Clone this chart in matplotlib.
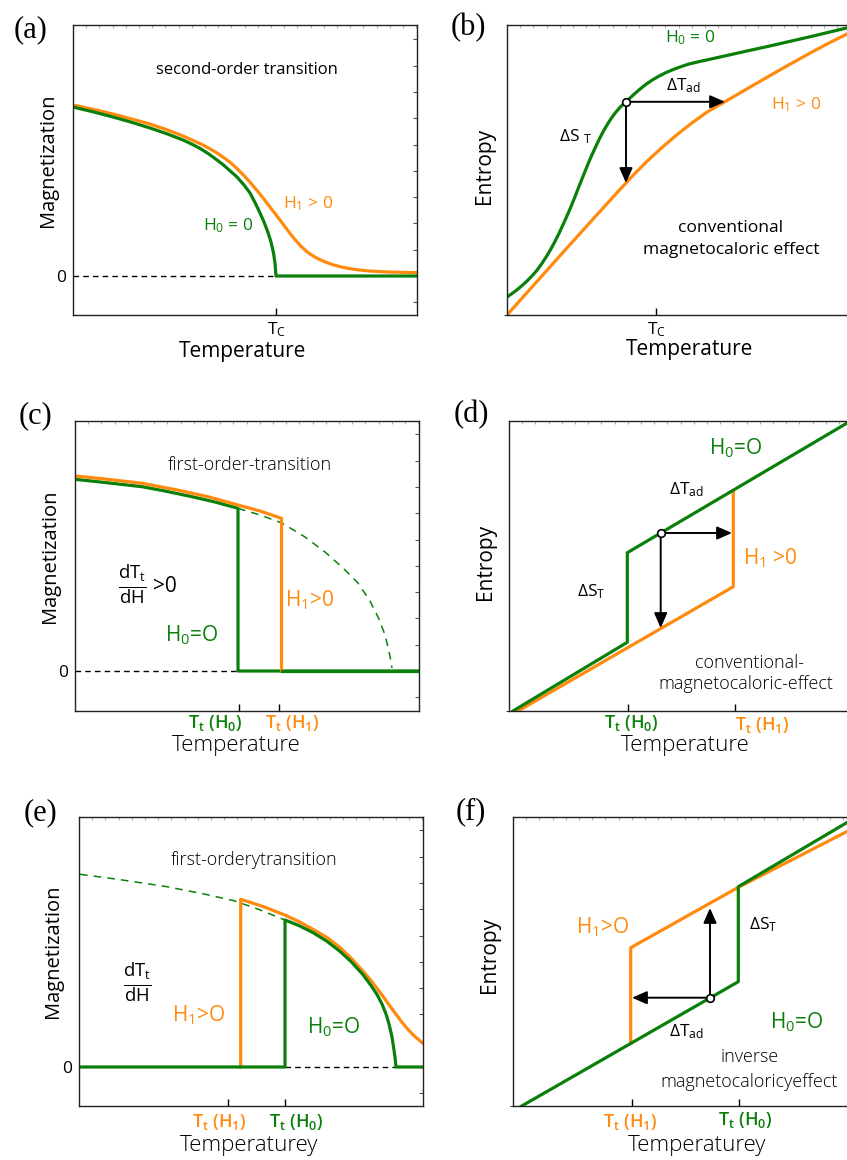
import matplotlib
matplotlib.use('Agg')
import matplotlib.pyplot as plt
from matplotlib.ticker import MultipleLocator

plt.rcParams['font.family'] = ['Open Sans', 'DejaVu Sans']
plt.rcParams['mathtext.default'] = 'regular'

GREEN = '#0a800a'
ORANGE = '#ff8a0d'

# ---- (a) second-order transition, magnetization (arb. units) ----
a_T_h0 = [0, 20, 40, 58, 77, 94, 110, 119, 128, 136, 144, 150, 155, 160, 164, 171, 177, 182, 187,
          191, 195, 198, 200.5, 202, 203, 344]
a_M_h0 = [169, 164.2, 159, 153.9, 148, 142.2, 136, 131.8, 127, 121.9, 116, 111.4, 107, 102.6, 99,
          91, 83, 73.5, 63, 54, 43.5, 34, 23, 13, 0, 0]
a_T_h1 = [0, 20, 40, 58, 77, 94, 110, 120, 130, 137, 144, 151, 158, 165, 172, 179, 186, 193, 200,
          207, 214, 221, 228, 235, 243, 251, 260, 270, 282, 296, 315, 344]
a_M_h1 = [171, 166.7, 162, 157.2, 152, 146.2, 140, 135.6, 131, 127.1, 123, 118.2, 113, 106.5, 99.3,
          91.5, 83.1, 74.2, 65.1, 55.9, 46.6, 37.6, 29.7, 23.4, 18.3, 14.5, 11.2, 8.6, 6.5, 5.0,
          4.0, 3.3]
a_Tc = 203

# ---- (b) second-order transition, entropy ----
b_T_h0 = [0, 5, 10, 15, 20, 25, 30, 35, 40, 44, 48, 52, 56, 60, 64, 68, 72, 76, 80, 84, 88, 92, 96,
          100, 104, 108, 112, 116, 119, 123, 127, 131, 136, 141, 146, 152, 159, 166, 174, 182, 193,
          205, 218, 231, 244, 256, 268, 281, 295, 310, 327, 345]
b_S_h0 = [18, 21.4, 25.2, 29.4, 34.0, 39.1, 44.8, 51.7, 59.4, 66.2, 73.6, 81.6, 90.3, 99.1, 108.4,
          118.3, 128.6, 138.6, 148.5, 158.1, 166.8, 175.3, 183.1, 190.0, 196.3, 201.8, 206.5, 210.7,
          213.2, 217.0, 220.7, 224.2, 228.4, 232.1, 235.4, 238.9, 242.4, 245.4, 248.4, 251.0, 253.6,
          256.2, 259.1, 262.0, 264.9, 267.5, 270.2, 273.2, 276.4, 279.9, 284.0, 288.3]
b_T_h1 = [0, 30, 60, 90, 110, 125, 140, 155, 170, 185, 200, 215, 230, 245, 260, 280, 300, 320, 345]
b_S_h1 = [0, 33.6, 67.1, 100.3, 122.3, 138.6, 153.7, 167.5, 180.3, 192.1, 202.9, 211.6, 220.3,
          229.0, 237.7, 249.1, 260.2, 271.0, 283.5]
b_Tc = 149
b_point = (119, 213.2)
b_Tad_end = 218
b_ST_end = 132

# ---- (c) first-order transition, dTt/dH > 0, magnetization ----
c_T_h0 = [0, 30, 67, 90, 117, 140, 163, 163, 344]
c_M_h0 = [191.7, 188.5, 184.3, 180, 174.3, 169, 162.7, 0, 0]
c_T_h1 = [0, 30, 67, 100, 133, 163, 185, 206.5, 206.5]
c_M_h1 = [195, 192, 187.7, 181.5, 174.3, 166, 160, 152.7, 0]
c_T_ext = [163, 185, 207, 230, 250, 268, 283, 295, 304, 310, 314, 317]
c_M_ext = [162.7, 156, 148, 134, 119, 103, 88, 70, 52, 36, 20, 3]
c_Tt = [164, 204]

# ---- (d) first-order transition, conventional MCE, entropy ----
d_T_h0 = [4, 118.3, 118.3, 350]
d_S_h0 = [0, 68.7, 158.3, 295]
d_T_h1 = [9, 224.3, 224.3]
d_S_h1 = [0, 124.3, 219.5]
d_Tt = [119, 226]
d_point = (151.7, 178)
d_Tad_end = 223
d_ST_end = 83

# ---- (e) first-order transition, dTt/dH < 0, magnetization ----
e_T_h0 = [0, 206, 206, 220, 234, 248, 261, 272, 284, 292, 298, 303, 307, 310, 313, 315, 316.2, 317, 344]
e_M_h0 = [0, 0, 147, 141.4, 134.4, 125.7, 115.6, 105.5, 92.3, 81.5, 72.5, 63, 53, 43, 30, 17, 8, 0, 0]
e_T_h1 = [161.7, 161.7, 184, 206, 220, 234, 248, 261, 272, 284, 292, 300, 308, 315, 322, 328, 335, 344]
e_M_h1 = [0, 167.7, 160.5, 151.9, 145.4, 137.7, 129.5, 119.5, 109, 95.9, 86.5, 76.1, 65.1, 55.4,
          46, 38.7, 31.3, 23.6]
e_T_ext = [1, 40, 88, 125, 155, 180, 206]
e_M_ext = [192.7, 187.5, 180.3, 173, 166.3, 157.5, 147]
e_Tt = [149, 206]

# ---- (f) first-order transition, inverse MCE, entropy ----
f_T_h0 = [8.7, 225.3, 225.3, 344]
f_S_h0 = [0, 124.3, 219.3, 289.4]
f_T_h1 = [117.7, 117.7, 225.3, 333.7, 344]
f_S_h1 = [62.7, 158.3, 218.7, 274.3, 279.6]
f_Tt = [119, 226]
f_point = (197, 108.3)
f_Tad_end = 119
f_ST_end = 198

W, H = 847, 1160
fig = plt.figure(figsize=(W / 100, H / 100), dpi=100)


def add_panel(left, top, bottom, ylo, yhi, right_ticks=True):
    ax = fig.add_axes([left / W, 1 - bottom / H, 344 / W, (bottom - top) / H])
    ax.set_xlim(0, 344)
    ax.set_ylim(ylo, yhi)
    for s in ax.spines.values():
        s.set_linewidth(1.0)
        s.set_color('#222222')
    ax.tick_params(axis='x', which='major', direction='in', length=5, width=1, pad=4)
    ax.tick_params(axis='y', which='major', length=0, pad=5, labelsize=12.5)
    ax.xaxis.set_minor_locator(MultipleLocator(13.2))
    ax.tick_params(axis='x', which='minor', bottom=False, top=True, direction='in',
                   length=2.5, width=0.8, color='#b0b0b0')
    if right_ticks:
        ax.yaxis.set_minor_locator(MultipleLocator(26.3))
        ax.tick_params(axis='y', which='minor', left=False, right=True, direction='in',
                       length=3, width=0.8, color='#555555')
    else:
        ax.yaxis.set_minor_locator(MultipleLocator(1000))
    return ax


def label(ax, x, y, s, **kw):
    kw.setdefault('ha', 'center')
    kw.setdefault('va', 'center')
    ax.text(x, y, s, clip_on=False, **kw)


def arrow(ax, start, end):
    ax.annotate('', xy=end, xytext=start,
                arrowprops=dict(arrowstyle='-|>,head_length=0.5,head_width=0.22', color='black',
                                lw=1.4, mutation_scale=18, shrinkA=0, shrinkB=0))


def point(ax, p):
    ax.plot([p[0]], [p[1]], 'o', ms=5.5, mfc='white', mec='black', mew=1.2, zorder=6)


def color_ticks(ax, colors):
    for t, c in zip(ax.xaxis.get_major_ticks(), colors):
        t.tick1line.set_color(c)


panel_font = dict(family=['Liberation Serif'], fontsize=22)
lw = 2.3
desc = dict(fontsize=13, weight='light')
tlab = dict(fontsize=13, weight='semibold')
hlab = 15

# (a)
ax = add_panel(73, 25, 315, -39, 251)
ax.plot([0, a_Tc], [0, 0], color='black', lw=1, ls=(0, (4, 3)))
ax.plot(a_T_h1, a_M_h1, color=ORANGE, lw=lw)
ax.plot(a_T_h0, a_M_h0, color=GREEN, lw=lw)
ax.set_xticks([a_Tc], ['T$_C$'], fontsize=12.5)
ax.set_yticks([0], ['0'])
label(ax, 174, 206, 'second-order transition', fontsize=12)
label(ax, 155, 50, 'H$_0$ = 0', fontsize=12.5, color=GREEN)
label(ax, 235, 72, 'H$_1$ > 0', fontsize=12.5, color=ORANGE)
label(ax, 170, -75, 'Temperature', fontsize=15)
label(ax, -25, 116, 'Magnetization', fontsize=14.5, rotation=90)
label(ax, -42, 246, '(a)', **panel_font)

# (b)
ax = add_panel(507, 25, 315, 0, 290, right_ticks=False)
ax.plot(b_T_h1, b_S_h1, color=ORANGE, lw=lw)
ax.plot(b_T_h0, b_S_h0, color=GREEN, lw=lw)
arrow(ax, b_point, (b_Tad_end, b_point[1]))
arrow(ax, b_point, (b_point[0], b_ST_end))
point(ax, b_point)
ax.set_xticks([b_Tc], ['T$_C$'], fontsize=12.5)
ax.set_yticks([])
label(ax, 183, 277, 'H$_0$ = 0', fontsize=12.5, color=GREEN)
label(ax, 176, 229, 'ΔT$_{ad}$', fontsize=12.5)
label(ax, 289, 210, 'H$_1$ > 0', fontsize=12.5, color=ORANGE)
label(ax, 68, 178, 'ΔS $_T$', fontsize=12.5)
label(ax, 224, 87, 'conventional', fontsize=12.6)
label(ax, 224, 65, 'magnetocaloric effect', fontsize=12.6)
label(ax, 183, -35, 'Temperature', fontsize=15)
label(ax, -23, 149, 'Entropy', fontsize=15, rotation=90)
label(ax, -39, 287, '(b)', **panel_font)

# (c)
ax = add_panel(75, 421, 711, -40, 250)
ax.plot([0, c_Tt[0]], [0, 0], color='black', lw=1, ls=(0, (4, 3)))
ax.plot(c_T_ext, c_M_ext, color=GREEN, lw=1.1, ls=(0, (5, 4)))
ax.plot(c_T_h0, c_M_h0, color=GREEN, lw=lw)
ax.plot(c_T_h1, c_M_h1, color=ORANGE, lw=lw)
ax.plot([c_T_h1[-1], 344], [0, 0], color=GREEN, lw=lw)
ax.set_xticks(c_Tt, ['', ''])
color_ticks(ax, [GREEN, ORANGE])
ax.set_yticks([0], ['0'])
label(ax, 175, 206, 'first-order-transition', **desc)
label(ax, 57, 86, r'$\frac{dT_t}{dH}$', fontsize=19)
label(ax, 90, 85, '>0', fontsize=15)
label(ax, 117, 36, 'H$_0$=O', fontsize=hlab, color=GREEN)
label(ax, 235, 71, 'H$_1$>0', fontsize=hlab, color=ORANGE)
label(ax, 140, -52, 'T$_t$ (H$_0$)', color=GREEN, **tlab)
label(ax, 217, -52, 'T$_t$ (H$_1$)', color=ORANGE, **tlab)
label(ax, 161, -74, 'Temperature', fontsize=16, weight='light')
label(ax, -25, 115, 'Magnetization', fontsize=14.5, rotation=90)
label(ax, -40, 255, '(c)', **panel_font)

# (d)
ax = add_panel(509, 421, 711, 0, 290, right_ticks=False)
ax.plot(d_T_h1, d_S_h1, color=ORANGE, lw=lw)
ax.plot(d_T_h0, d_S_h0, color=GREEN, lw=lw)
arrow(ax, d_point, (d_Tad_end, d_point[1]))
arrow(ax, d_point, (d_point[0], d_ST_end))
point(ax, d_point)
ax.set_xticks(d_Tt, ['', ''])
color_ticks(ax, [GREEN, ORANGE])
ax.set_yticks([])
label(ax, 227, 263, 'H$_0$=O', fontsize=hlab, color=GREEN)
label(ax, 177, 221, 'ΔT$_{ad}$', fontsize=12.5)
label(ax, 261, 153, 'H$_1$ >0', fontsize=hlab, color=ORANGE)
label(ax, 82, 119, 'ΔS$_T$', fontsize=12.5)
label(ax, 240, 48, 'conventional-', **desc)
label(ax, 237, 27, 'magnetocaloric-effect', **desc)
label(ax, 122, -12, 'T$_t$ (H$_0$)', color=GREEN, **tlab)
label(ax, 253, -14, 'T$_t$ (H$_1$)', color=ORANGE, **tlab)
label(ax, 176, -34, 'Temperature', fontsize=16, weight='light')
label(ax, -24, 149, 'Entropy', fontsize=15, rotation=90)
label(ax, -38, 296, '(d)', **panel_font)

# (e)
ax = add_panel(79, 817, 1106, -39, 250)
ax.plot([e_Tt[1], e_T_h0[17]], [0, 0], color='black', lw=1, ls=(0, (4, 3)))
ax.plot(e_T_ext, e_M_ext, color=GREEN, lw=1.1, ls=(0, (5, 4)))
ax.plot(e_T_h1, e_M_h1, color=ORANGE, lw=lw)
ax.plot(e_T_h0, e_M_h0, color=GREEN, lw=lw)
ax.set_xticks(e_Tt, ['', ''])
color_ticks(ax, [ORANGE, GREEN])
ax.set_yticks([0], ['0'])
label(ax, 175, 207, 'first-orderytransition', **desc)
label(ax, 58, 84, r'$\frac{dT_t}{dH}$', fontsize=19)
label(ax, 120, 52, 'H$_1$>O', fontsize=hlab, color=ORANGE)
label(ax, 255, 40, 'H$_0$=O', fontsize=hlab, color=GREEN)
label(ax, 140, -55, 'T$_t$ (H$_1$)', color=ORANGE, **tlab)
label(ax, 217, -55, 'T$_t$ (H$_0$)', color=GREEN, **tlab)
label(ax, 170, -78, 'Temperaturey', fontsize=16, weight='light')
label(ax, -26, 116, 'Magnetization', fontsize=14.5, rotation=90)
label(ax, -39, 254, '(e)', **panel_font)

# (f)
ax = add_panel(513, 817, 1106, 0, 289, right_ticks=False)
ax.plot(f_T_h1, f_S_h1, color=ORANGE, lw=lw)
ax.plot(f_T_h0, f_S_h0, color=GREEN, lw=lw)
arrow(ax, f_point, (f_Tad_end, f_point[1]))
arrow(ax, f_point, (f_point[0], f_ST_end))
point(ax, f_point)
ax.set_xticks(f_Tt, ['', ''])
color_ticks(ax, [ORANGE, GREEN])
ax.set_yticks([])
label(ax, 90, 179, 'H$_1$>O', fontsize=hlab, color=ORANGE)
label(ax, 250, 181, 'ΔS$_T$', fontsize=12.5)
label(ax, 284, 84, 'H$_0$=O', fontsize=hlab, color=GREEN)
label(ax, 173, 74, 'ΔT$_{ad}$', fontsize=12.5)
label(ax, 237, 49, 'inverse', **desc)
label(ax, 236, 24, 'magnetocaloricyeffect', **desc)
label(ax, 117, -16, 'T$_t$ (H$_1$)', color=ORANGE, **tlab)
label(ax, 232, -14, 'T$_t$ (H$_0$)', color=GREEN, **tlab)
label(ax, 184, -39, 'Temperaturey', fontsize=16, weight='light')
label(ax, -23, 151, 'Entropy', fontsize=15, rotation=90)
label(ax, -42, 294, '(f)', **panel_font)

fig.savefig('out.png', dpi=100)
